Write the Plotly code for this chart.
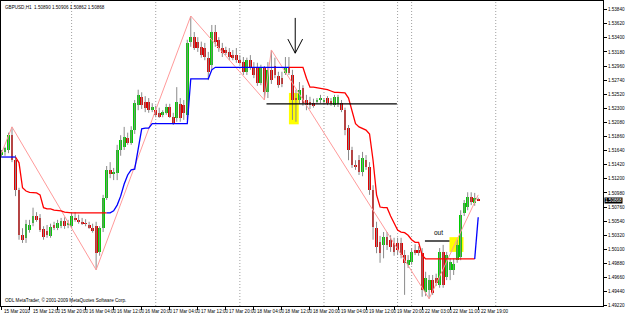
import plotly.graph_objects as go

# ---------------- data (GBPUSD H1) ----------------
O = [1.5157, 1.5162, 1.5165, 1.5188, 1.5149, 1.5103, 1.5032, 1.5028, 1.5040, 1.5051,
     1.5062, 1.5059, 1.5042, 1.5039, 1.5031, 1.5048, 1.5043, 1.5046, 1.5054, 1.5048,
     1.5046, 1.5059, 1.5056, 1.5053, 1.5051, 1.5048, 1.5043, 1.5046, 1.5006, 1.5043,
     1.5090, 1.5134, 1.5128, 1.5129, 1.5165, 1.5170, 1.5184, 1.5176, 1.5196, 1.5235,
     1.5248, 1.5240, 1.5240, 1.5227, 1.5227, 1.5223, 1.5220, 1.5223, 1.5232, 1.5216,
     1.5215, 1.5237, 1.5235, 1.5220, 1.5334, 1.5341, 1.5334, 1.5326, 1.5324, 1.5309,
     1.5298, 1.5349, 1.5337, 1.5324, 1.5321, 1.5318, 1.5313, 1.5313, 1.5305, 1.5302,
     1.5287, 1.5305, 1.5294, 1.5293, 1.5269, 1.5293, 1.5255, 1.5290, 1.5296, 1.5280,
     1.5277, 1.5285, 1.5293, 1.5282, 1.5246, 1.5243, 1.5262, 1.5243, 1.5240, 1.5238,
     1.5240, 1.5243, 1.5241, 1.5246, 1.5241, 1.5235, 1.5237, 1.5238, 1.5227, 1.5199,
     1.5165, 1.5142, 1.5149, 1.5131, 1.5149, 1.5138, 1.5103, 1.5043, 1.5021, 1.5017,
     1.5029, 1.5025, 1.5020, 1.5020, 1.5020, 1.5001, 1.4986, 1.4990, 1.5009, 1.5009,
     1.5004, 1.4944, 1.4947, 1.4962, 1.4965, 1.4954, 1.5006, 1.4967, 1.4978, 1.4978,
     1.4993, 1.4998, 1.5067, 1.5076, 1.5092, 1.5082, 1.50890]
H = [1.5165, 1.5170, 1.5192, 1.5201, 1.5157, 1.5106, 1.5043, 1.5056, 1.5056, 1.5075,
     1.5068, 1.5065, 1.5046, 1.5048, 1.5050, 1.5053, 1.5056, 1.5059, 1.5060, 1.5056,
     1.5068, 1.5068, 1.5064, 1.5059, 1.5057, 1.5053, 1.5050, 1.5053, 1.5046, 1.5095,
     1.5140, 1.5146, 1.5137, 1.5173, 1.5188, 1.5201, 1.5192, 1.5202, 1.5243, 1.5259,
     1.5255, 1.5249, 1.5246, 1.5238, 1.5234, 1.5231, 1.5227, 1.5237, 1.5237, 1.5223,
     1.5263, 1.5246, 1.5243, 1.5337, 1.5374, 1.5349, 1.5341, 1.5334, 1.5332, 1.5318,
     1.5360, 1.5360, 1.5341, 1.5332, 1.5326, 1.5324, 1.5321, 1.5324, 1.5313, 1.5310,
     1.5309, 1.5313, 1.5302, 1.5301, 1.5298, 1.5296, 1.5302, 1.5321, 1.5309, 1.5287,
     1.5287, 1.5310, 1.5310, 1.5290, 1.5259, 1.5271, 1.5266, 1.5251, 1.5248, 1.5245,
     1.5246, 1.5251, 1.5246, 1.5249, 1.5246, 1.5251, 1.5251, 1.5243, 1.5231, 1.5204,
     1.5170, 1.5149, 1.5157, 1.5162, 1.5157, 1.5146, 1.5110, 1.5053, 1.5031, 1.5037,
     1.5037, 1.5032, 1.5028, 1.5028, 1.5028, 1.5009, 1.5001, 1.5012, 1.5018, 1.5015,
     1.5012, 1.4975, 1.4970, 1.4970, 1.4972, 1.5012, 1.5017, 1.5006, 1.4996, 1.4996,
     1.5025, 1.5071, 1.5087, 1.5099, 1.5099, 1.5098, 1.50906]
L = [1.5153, 1.5156, 1.5160, 1.5146, 1.5093, 1.5025, 1.5020, 1.5020, 1.5036, 1.5046,
     1.5053, 1.5037, 1.5025, 1.5028, 1.5028, 1.5040, 1.5040, 1.5043, 1.5042, 1.5043,
     1.5043, 1.5053, 1.5050, 1.5048, 1.5046, 1.5042, 1.5036, 1.4978, 1.5000, 1.5037,
     1.5087, 1.5121, 1.5118, 1.5118, 1.5156, 1.5165, 1.5173, 1.5173, 1.5190, 1.5227,
     1.5229, 1.5224, 1.5223, 1.5224, 1.5216, 1.5215, 1.5216, 1.5220, 1.5215, 1.5204,
     1.5209, 1.5209, 1.5212, 1.5212, 1.5326, 1.5321, 1.5318, 1.5309, 1.5305, 1.5274,
     1.5290, 1.5326, 1.5318, 1.5310, 1.5313, 1.5305, 1.5305, 1.5301, 1.5298, 1.5282,
     1.5282, 1.5290, 1.5277, 1.5265, 1.5266, 1.5243, 1.5246, 1.5268, 1.5277, 1.5262,
     1.5263, 1.5282, 1.5282, 1.5212, 1.5209, 1.5237, 1.5234, 1.5227, 1.5229, 1.5231,
     1.5237, 1.5238, 1.5237, 1.5235, 1.5234, 1.5232, 1.5232, 1.5224, 1.5188, 1.5149,
     1.5137, 1.5134, 1.5126, 1.5124, 1.5134, 1.5095, 1.5025, 1.5004, 1.4989, 1.4996,
     1.5009, 1.5006, 1.5000, 1.5001, 1.4996, 1.4939, 1.4981, 1.4986, 1.5001, 1.5000,
     1.4936, 1.4937, 1.4933, 1.4939, 1.4953, 1.4950, 1.4950, 1.4962, 1.4962, 1.4970,
     1.4989, 1.4993, 1.5062, 1.5071, 1.5079, 1.5078, 1.50862]
C = [1.5162, 1.5168, 1.5188, 1.5149, 1.5103, 1.5032, 1.5025, 1.5050, 1.5048, 1.5062,
     1.5056, 1.5040, 1.5029, 1.5032, 1.5045, 1.5043, 1.5051, 1.5054, 1.5046, 1.5051,
     1.5062, 1.5056, 1.5053, 1.5051, 1.5050, 1.5043, 1.5040, 1.5004, 1.5043, 1.5090,
     1.5134, 1.5128, 1.5131, 1.5165, 1.5181, 1.5185, 1.5176, 1.5196, 1.5238, 1.5251,
     1.5235, 1.5231, 1.5227, 1.5232, 1.5220, 1.5216, 1.5224, 1.5232, 1.5216, 1.5207,
     1.5240, 1.5215, 1.5223, 1.5332, 1.5341, 1.5324, 1.5324, 1.5313, 1.5310, 1.5287,
     1.5349, 1.5334, 1.5324, 1.5316, 1.5316, 1.5310, 1.5309, 1.5305, 1.5301, 1.5287,
     1.5305, 1.5294, 1.5282, 1.5269, 1.5294, 1.5255, 1.5290, 1.5274, 1.5282, 1.5266,
     1.5268, 1.5294, 1.5285, 1.5243, 1.5243, 1.5259, 1.5238, 1.5235, 1.5235, 1.5235,
     1.5243, 1.5245, 1.5243, 1.5238, 1.5237, 1.5248, 1.5248, 1.5227, 1.5196, 1.5165,
     1.5142, 1.5138, 1.5131, 1.5153, 1.5138, 1.5103, 1.5045, 1.5014, 1.5004, 1.5029,
     1.5017, 1.5014, 1.5006, 1.5009, 1.5001, 1.4989, 1.4993, 1.5006, 1.5004, 1.5004,
     1.4947, 1.4965, 1.4962, 1.4942, 1.4958, 1.5006, 1.4954, 1.5001, 1.4990, 1.4987,
     1.5017, 1.5064, 1.5082, 1.5092, 1.5084, 1.5090, 1.50868]

# trailing-stop indicator: blue when below price (up), red when above (down)
up_line = ([1.5154, 1.5154, 1.5154, 1.5154, 1.5154] + [None] * 25 +
           [1.5067, 1.5067, 1.5070, 1.5079, 1.5093, 1.5112, 1.5126, 1.5134, 1.5135, 1.5165,
            1.5198, 1.5199, 1.5199,
            1.5206, 1.5206, 1.5206, 1.5206, 1.5206, 1.5206, 1.5206, 1.5206, 1.5206, 1.5206, 1.5206,
            1.5276, 1.5276, 1.5276, 1.5276, 1.5276, 1.5276, 1.5290,
            1.5294, 1.5294, 1.5294, 1.5294, 1.5294, 1.5294, 1.5294, 1.5294, 1.5294, 1.5294, 1.5294,
            1.5294, 1.5294, 1.5294, 1.5294, 1.5294, 1.5294, 1.5294, 1.5294, 1.5294, 1.5294, 1.5294] +
           [None] * 52 + [1.4995, 1.5060])
dn_line = ([None] * 4 +
           [1.5154, 1.5145, 1.5106, 1.5101, 1.5099, 1.5098, 1.5098, 1.5095, 1.5075, 1.5073,
            1.5073, 1.5071, 1.5071, 1.5070, 1.5068,
            1.5067, 1.5067, 1.5067, 1.5067, 1.5067, 1.5067, 1.5067, 1.5067, 1.5067, 1.5067, 1.5067, 1.5067] +
           [None] * 51 +
           [1.5294, 1.5294, 1.5294, 1.5294, 1.5294, 1.5277, 1.5263, 1.5263, 1.5262, 1.5262,
            1.5260, 1.5259, 1.5257, 1.5255, 1.5255, 1.5254, 1.5254, 1.5246, 1.5227, 1.5206,
            1.5201, 1.5199, 1.5196, 1.5190, 1.5149, 1.5095, 1.5076, 1.5075, 1.5075, 1.5062,
            1.5050, 1.5040, 1.5037, 1.5036, 1.5032, 1.5025, 1.5021, 1.5021, 1.5001,
            1.4995, 1.4995, 1.4995, 1.4995, 1.4995, 1.4995, 1.4995, 1.4995, 1.4995, 1.4995,
            1.4995, 1.4995, 1.4995, 1.4995, 1.4995] + [None])

# zigzag vertices (bar index, price)
zz_idx = [0, 3, 27, 54, 75, 77, 122, 136]
zz_price = [1.5160, 1.5201, 1.4978, 1.5374, 1.5243, 1.5321, 1.4933, 1.5095]

# time axis labels (every 8 bars)
time_labels = ["15 Mar 2010", "15 Mar 12:00", "15 Mar 20:00", "16 Mar 04:00", "16 Mar 12:00",
               "16 Mar 20:00", "17 Mar 04:00", "17 Mar 12:00", "17 Mar 20:00", "18 Mar 04:00",
               "18 Mar 12:00", "18 Mar 20:00", "19 Mar 04:00", "19 Mar 12:00", "19 Mar 20:00",
               "22 Mar 03:00", "22 Mar 11:00", "22 Mar 19:00"]
label_bars = [0, 8, 16, 24, 32, 40, 48, 56, 64, 72, 80, 88, 96, 104, 112, 120, 128, 136]
day_start_bars = [20, 44, 68, 92, 113, 117, 141]

price_ticks = [1.5384, 1.5362, 1.5340, 1.5318, 1.5296, 1.5274, 1.5252, 1.5230, 1.5208, 1.5186,
               1.5164, 1.5142, 1.5120, 1.5098, 1.5076, 1.5054, 1.5032, 1.5010, 1.4988, 1.4966,
               1.4944, 1.4922]
last_price = 1.50868
title_text = "GBPUSD,H1  1.50890 1.50906 1.50862 1.50868"
copyright_text = "ODL MetaTrader, \u00a9 2001-2009 MetaQuotes Software Corp."

# ---------------- figure ----------------
N = len(C)
idx = list(range(N))
FONT = "Liberation Sans, Arial, sans-serif"
FS = 4.6

fig = go.Figure()

wx, wy = [], []
for i in idx:
    wx += [i, i, None]
    wy += [L[i], H[i], None]
fig.add_trace(go.Scatter(x=wx, y=wy, mode="lines", line=dict(color="#8a8a8a", width=1),
                         hoverinfo="skip"))

base = [min(o, c) for o, c in zip(O, C)]
height = [max(abs(c - o), 0.00005) for o, c in zip(O, C)]
colors = ["#00cc00" if c >= o else "#e00000" for o, c in zip(O, C)]
fig.add_trace(go.Bar(x=idx, y=height, base=base, width=0.8,
                     marker=dict(color=colors, line=dict(width=0)), hoverinfo="skip"))

fig.add_trace(go.Scatter(x=zz_idx, y=zz_price, mode="lines",
                         line=dict(color="#ff9a9a", width=1), hoverinfo="skip"))
fig.add_trace(go.Scatter(x=idx, y=dn_line, mode="lines", connectgaps=False,
                         line=dict(color="#ff0000", width=1.3), hoverinfo="skip"))
fig.add_trace(go.Scatter(x=idx, y=up_line, mode="lines", connectgaps=False,
                         line=dict(color="#0000ff", width=1.3), hoverinfo="skip"))

shapes = []
for b in day_start_bars:
    shapes.append(dict(type="line", xref="x", yref="paper", x0=b, x1=b, y0=0, y1=1,
                       line=dict(color="#a0a0a0", width=1, dash="1px,2px"), layer="below"))
# yellow rectangles
shapes.append(dict(type="rect", xref="x", yref="y", x0=82.0, x1=84.8, y0=1.5205, y1=1.5254,
                   fillcolor="#ffff00", line=dict(width=0), layer="below"))
shapes.append(dict(type="rect", xref="x", yref="y", x0=127.8, x1=131.8, y0=1.5006, y1=1.5029,
                   fillcolor="#ffff00", line=dict(width=0), layer="below"))
# horizontal black lines
shapes.append(dict(type="line", xref="x", yref="y", x0=75.6, x1=112.8, y0=1.5237, y1=1.5237,
                   line=dict(color="black", width=1.3)))
shapes.append(dict(type="line", xref="x", yref="y", x0=120.8, x1=127.8, y0=1.5023, y1=1.5023,
                   line=dict(color="black", width=1.3)))
# arrow
shapes.append(dict(type="line", xref="x", yref="y", x0=83.8, x1=83.8, y0=1.5371, y1=1.5316,
                   line=dict(color="black", width=1)))
shapes.append(dict(type="line", xref="x", yref="y", x0=81.7, x1=83.8, y0=1.5338, y1=1.5316,
                   line=dict(color="black", width=1)))
shapes.append(dict(type="line", xref="x", yref="y", x0=85.9, x1=83.8, y0=1.5338, y1=1.5316,
                   line=dict(color="black", width=1)))

annotations = []
for b, t in zip(label_bars, time_labels):
    annotations.append(dict(x=b, y=0, xref="x", yref="paper", text=t, showarrow=False,
                            xanchor="left", yanchor="top", xshift=1, yshift=-1,
                            font=dict(family=FONT, size=FS, color="black")))
annotations.append(dict(x=0, y=1, xref="paper", yref="paper", text=title_text, showarrow=False,
                        xanchor="left", yanchor="top", xshift=2, yshift=-2,
                        font=dict(family=FONT, size=FS, color="black")))
annotations.append(dict(x=0, y=0, xref="paper", yref="paper", text=copyright_text, showarrow=False,
                        xanchor="left", yanchor="bottom", xshift=2, yshift=1,
                        font=dict(family=FONT, size=FS, color="black")))
annotations.append(dict(x=1, y=last_price, xref="paper", yref="y", text="%.5f" % last_price,
                        showarrow=False, xanchor="left", yanchor="middle", xshift=1,
                        bgcolor="black", borderpad=0,
                        font=dict(family=FONT, size=FS, color="white")))
annotations.append(dict(x=124.7, y=1.5037, xref="x", yref="y", text="out", showarrow=False,
                        font=dict(family=FONT, size=6.5, color="black")))

fig.update_layout(
    width=625, height=315,
    margin=dict(l=0, r=17, t=1, b=9, pad=0),
    paper_bgcolor="white", plot_bgcolor="white",
    showlegend=False, bargap=0,
    shapes=shapes, annotations=annotations,
    xaxis=dict(range=[-0.14, 171.6], showgrid=False, zeroline=False,
               showline=True, mirror=True, linecolor="black", linewidth=1,
               tickvals=label_bars, ticktext=[""] * len(label_bars),
               ticks="outside", ticklen=3, tickcolor="black", tickwidth=1,
               showticklabels=False, fixedrange=True),
    yaxis=dict(range=[1.49216, 1.53974], side="right", showgrid=False, zeroline=False,
               showline=True, mirror=True, linecolor="black", linewidth=1,
               tickvals=price_ticks, ticktext=["%.5f" % p for p in price_ticks],
               ticks="outside", ticklen=3, tickcolor="black", tickwidth=1,
               tickfont=dict(family=FONT, size=FS, color="black"), fixedrange=True),
)

fig.write_html("out.html")
